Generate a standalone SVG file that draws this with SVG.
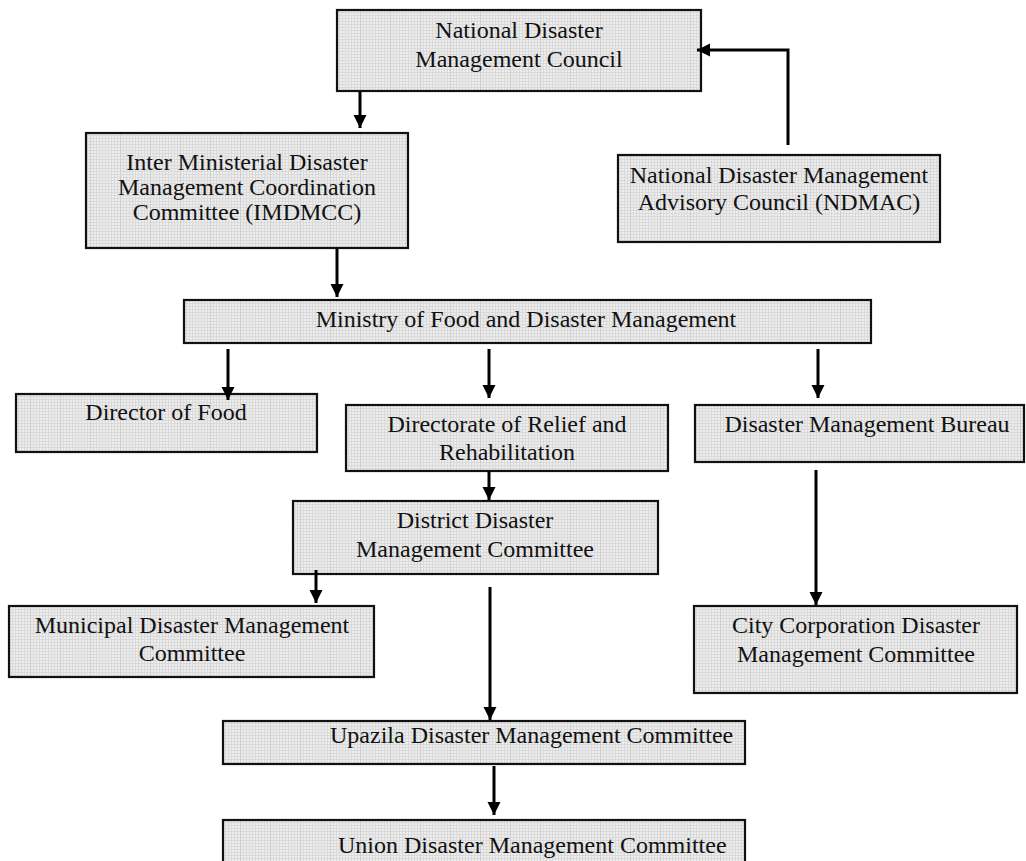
<svg xmlns="http://www.w3.org/2000/svg" width="1026" height="861" viewBox="0 0 1026 861">
<style>
.box{fill:url(#grid);stroke:#111;stroke-width:2.2}
.t{font-family:"Liberation Serif","Times New Roman",serif;font-size:24px;fill:#111;text-anchor:middle}
.s{text-anchor:start}
.c{fill:none;stroke:#000;stroke-width:3;marker-end:url(#ah)}
</style>
<defs>
<pattern id="fine" width="3" height="3" patternUnits="userSpaceOnUse">
<rect width="3" height="3" fill="#ededed"/>
<path d="M0,0.5H3M0.5,0V3" stroke="#dadada" stroke-width="1"/>
</pattern>
<pattern id="grid" width="30" height="30" patternUnits="userSpaceOnUse">
<rect width="30" height="30" fill="url(#fine)"/>
<path d="M0.5,0V30" stroke="#cfcfcf" stroke-width="1"/>
</pattern>
<marker id="ah" markerUnits="userSpaceOnUse" markerWidth="14" markerHeight="14" refX="13" refY="6.5" orient="auto">
<path d="M0,0 L13,6.5 L0,13 z" fill="#000"/>
</marker>
</defs>
<rect width="1026" height="861" fill="#fff"/>

<g id="council">
<rect class="box" x="337" y="10" width="364" height="81"/>
<text class="t" x="519" y="38">National Disaster</text>
<text class="t" x="519" y="67">Management Council</text>
</g>

<g id="imdmcc">
<rect class="box" x="86" y="133" width="322" height="115"/>
<text class="t" x="247" y="170">Inter Ministerial Disaster</text>
<text class="t" x="247" y="195">Management Coordination</text>
<text class="t" x="247" y="220">Committee (IMDMCC)</text>
</g>

<g id="ndmac">
<rect class="box" x="618" y="155" width="322" height="87"/>
<text class="t" x="779" y="183">National Disaster Management</text>
<text class="t" x="779" y="210">Advisory Council (NDMAC)</text>
</g>

<g id="ministry">
<rect class="box" x="184" y="300" width="687" height="43"/>
<text class="t" x="526" y="327">Ministry of Food and Disaster Management</text>
</g>

<g id="director-food">
<rect class="box" x="16" y="394" width="301" height="58"/>
<text class="t" x="166" y="420">Director of Food</text>
</g>

<g id="directorate">
<rect class="box" x="346" y="405" width="322" height="66"/>
<text class="t" x="507" y="432">Directorate of Relief and</text>
<text class="t" x="507" y="460">Rehabilitation</text>
</g>

<g id="dmb">
<rect class="box" x="695" y="405" width="329" height="57"/>
<text class="t" x="867" y="432">Disaster Management Bureau</text>
</g>

<g id="district">
<rect class="box" x="293" y="501" width="365" height="73"/>
<text class="t" x="475" y="528">District Disaster</text>
<text class="t" x="475" y="557">Management Committee</text>
</g>

<g id="municipal">
<rect class="box" x="9" y="606" width="365" height="71"/>
<text class="t" x="192" y="633">Municipal Disaster Management</text>
<text class="t" x="192" y="661">Committee</text>
</g>

<g id="city">
<rect class="box" x="694" y="606" width="323" height="87"/>
<text class="t" x="856" y="633">City Corporation Disaster</text>
<text class="t" x="856" y="662">Management Committee</text>
</g>

<g id="upazila">
<rect class="box" x="223" y="721" width="522" height="43"/>
<text class="t s" x="330" y="743">Upazila Disaster Management Committee</text>
</g>

<g id="union">
<rect class="box" x="223" y="820" width="522" height="50"/>
<text class="t s" x="338" y="853">Union Disaster Management Committee</text>
</g>

<g id="connectors">
<path class="c" d="M360,91 V128"/>
<path class="c" d="M337,248 V297"/>
<path class="c" d="M788,145 V50 H697"/>
<path class="c" d="M228,349 V400"/>
<path class="c" d="M489,349 V398"/>
<path class="c" d="M818,349 V398"/>
<path class="c" d="M489,471 V500"/>
<path class="c" d="M816,470 V605"/>
<path class="c" d="M316,570 V603"/>
<path class="c" d="M490,587 V720"/>
<path class="c" d="M494,766 V815"/>
</g>
</svg>
